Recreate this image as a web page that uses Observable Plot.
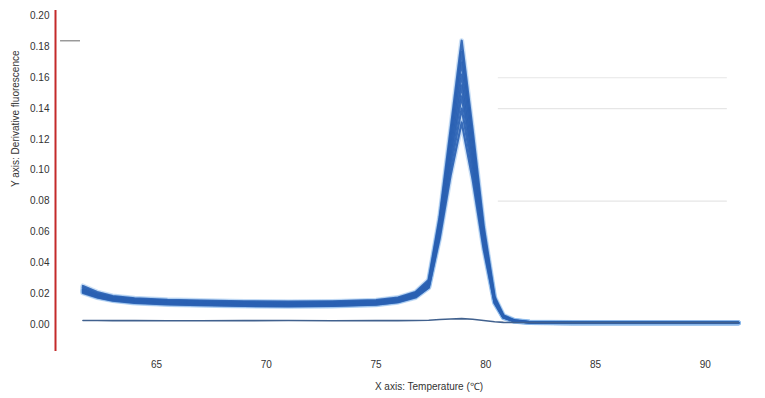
<!DOCTYPE html>
<html>
<head>
<meta charset="utf-8">
<script src="https://cdn.jsdelivr.net/npm/d3@7"></script>
<script src="https://cdn.jsdelivr.net/npm/@observablehq/plot@0.6"></script>
<style>
  html, body { margin: 0; padding: 0; background: #fff; }
  #chart { width: 765px; height: 398px; }
</style>
</head>
<body>
<div id="chart"></div>
<script>
// Temperatures (°C)
const temps = [61.65, 62.3, 63, 64, 65.5, 67, 69, 71, 73, 75, 76, 76.8, 77.4, 77.9, 78.4, 78.9, 79.4, 79.9, 80.4, 80.8, 81.3, 82, 84, 87, 91.5];

// Derivative fluorescence of replicate samples
const sample1 = [0.025,0.021,0.0185,0.017,0.016,0.0155,0.015,0.0148,0.015,0.0158,0.0175,0.021,0.029,0.070,0.127,0.184,0.126,0.064,0.018,0.006,0.0028,0.0016,0.0013,0.0012,0.0012];
const sample2 = [0.024,0.020,0.018,0.0165,0.0155,0.015,0.0145,0.0142,0.0145,0.0152,0.017,0.0205,0.028,0.068,0.123,0.177,0.121,0.061,0.017,0.0055,0.0026,0.0015,0.0012,0.0012,0.0011];
const sample3 = [0.023,0.0195,0.0175,0.016,0.015,0.0145,0.014,0.0137,0.014,0.0148,0.0165,0.020,0.027,0.066,0.119,0.170,0.117,0.059,0.016,0.005,0.0025,0.0015,0.0012,0.0011,0.0011];
const sample4 = [0.0225,0.019,0.017,0.0155,0.0145,0.014,0.0135,0.0132,0.0135,0.0143,0.016,0.0195,0.026,0.064,0.115,0.162,0.112,0.057,0.016,0.005,0.0024,0.0014,0.0011,0.0011,0.0011];
const sample5 = [0.022,0.0185,0.0165,0.015,0.014,0.0135,0.013,0.0128,0.013,0.0138,0.0155,0.019,0.026,0.062,0.111,0.155,0.108,0.055,0.015,0.0048,0.0023,0.0014,0.0011,0.0011,0.001];
const sample6 = [0.0215,0.018,0.016,0.0145,0.0135,0.013,0.0125,0.0123,0.0125,0.0133,0.015,0.0185,0.025,0.060,0.107,0.148,0.104,0.053,0.015,0.0047,0.0022,0.0013,0.001,0.001,0.001];
const sample7 = [0.021,0.0178,0.0158,0.0143,0.0133,0.0128,0.0123,0.012,0.0122,0.013,0.0147,0.018,0.024,0.058,0.102,0.140,0.099,0.051,0.014,0.0045,0.0021,0.0013,0.001,0.001,0.001];
const sample8 = [0.0205,0.0175,0.0155,0.014,0.013,0.0125,0.012,0.0118,0.012,0.0128,0.0145,0.0175,0.024,0.056,0.097,0.131,0.094,0.049,0.014,0.0045,0.0021,0.0013,0.001,0.001,0.001];
// No-template control
const control = [0.0026,0.0026,0.0025,0.0025,0.0024,0.0024,0.0025,0.0026,0.0024,0.0025,0.0025,0.0026,0.0028,0.0032,0.0036,0.0038,0.0034,0.0026,0.0018,0.0014,0.0013,0.0013,0.0012,0.0012,0.0012];

const samples = [sample1, sample2, sample3, sample4, sample5, sample6, sample7, sample8];

// Y ticks and X ticks
const yTicks = [0, 0.02, 0.04, 0.06, 0.08, 0.10, 0.12, 0.14, 0.16, 0.18, 0.20];
const xTicks = [65, 70, 75, 80, 85, 90];

// Faint partial grid lines and legend dash
const faintGrid = [0.16, 0.14, 0.08];
const faintGridX = [80.57, 91.0];
const legendDash = [{x1: 60.63, x2: 61.54, y: 0.184}];

const xDomain = [60.4, 91.6];
const yDomain = [-0.0175, 0.2036];

const rows = [];
samples.forEach((s, k) => s.forEach((v, i) => rows.push({sample: k, t: temps[i], v})));
const ctrlRows = control.map((v, i) => ({t: temps[i], v}));

const font = "Liberation Sans, Arial, sans-serif";

const chart = Plot.plot({
  width: 765,
  height: 398,
  marginLeft: 55,
  marginRight: 25,
  marginTop: 10,
  marginBottom: 47,
  style: {fontFamily: font, fontSize: "10px", color: "#333", background: "#fff"},
  x: {domain: xDomain},
  y: {domain: yDomain},
  marks: [
    Plot.ruleY(faintGrid, {y: d => d, x1: faintGridX[0], x2: faintGridX[1], stroke: "#e6e6e6", strokeWidth: 1.2}),
    Plot.ruleY(legendDash, {y: "y", x1: "x1", x2: "x2", stroke: "#9a9a9a", strokeWidth: 1.5}),
    Plot.line(rows, {x: "t", y: "v", z: "sample", stroke: "#8ab8ea", strokeWidth: 5, strokeOpacity: 0.45}),
    Plot.line(rows, {x: "t", y: "v", z: "sample", stroke: "#2a60b2", strokeWidth: 2.2, strokeOpacity: 0.9}),
    Plot.line(ctrlRows, {x: "t", y: "v", stroke: "#41618e", strokeWidth: 1.6}),
    Plot.axisY(yTicks, {tickSize: 0, tickPadding: 6, tickFormat: d3.format(".2f"), label: null, fontSize: 10, fill: "#333"}),
    Plot.axisX(xTicks, {tickSize: 0, tickPadding: 9, label: null, fontSize: 10, fill: "#333"}),
    Plot.ruleX([xDomain[0]], {stroke: "#c42a2a", strokeWidth: 2}),
    Plot.text(["X axis: Temperature (\u2103)"], {frameAnchor: "bottom", dx: 31, dy: 38, fontSize: 10, fill: "#333"}),
    Plot.text(["Y axis: Derivative fluorescence"], {frameAnchor: "left", dx: -40, dy: 6, rotate: -90, fontSize: 10, fill: "#333"})
  ]
});

document.getElementById("chart").appendChild(chart);
</script>
</body>
</html>
